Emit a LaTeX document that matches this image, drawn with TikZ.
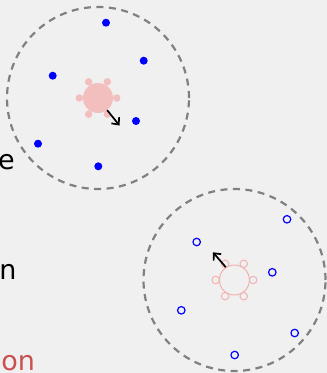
\documentclass[tikz,border=0pt]{standalone}
\usepackage{fontspec}
\setmainfont{DejaVu Sans}
\usetikzlibrary{arrows.meta,calc}
\definecolor{bg}{RGB}{240,240,240}
\definecolor{pinkfill}{RGB}{243,190,190}
\definecolor{pinkline}{RGB}{242,178,178}
\definecolor{ringgray}{RGB}{128,128,128}
\definecolor{labelred}{RGB}{200,80,80}
\tikzset{
  ring/.style={draw=ringgray, line width=2.2pt, dash pattern=on 7pt off 5.5pt, circle, minimum size=182pt, inner sep=0pt},
  solidblue/.style={circle, fill=blue, inner sep=0pt, minimum size=8pt},
  hollowblue/.style={circle, draw=blue, line width=1.2pt, inner sep=0pt, minimum size=7.5pt},
  blobfull/.style={circle, fill=pinkfill, inner sep=0pt, minimum size=30pt},
  bumpfull/.style={circle, fill=pinkfill, inner sep=0pt, minimum size=7.5pt},
  blobhollow/.style={circle, draw=pinkline, line width=1pt, inner sep=0pt, minimum size=30pt},
  bumphollow/.style={circle, draw=pinkline, line width=1pt, inner sep=0pt, minimum size=7.5pt},
  motion/.style={draw=black, line width=1.7pt, -{Straight Barb[length=5.5pt,width=10pt,line width=1.7pt]}},
  lbl/.style={font=\fontsize{27}{27}\selectfont, inner sep=0pt, anchor=base west}
}
\begin{document}
\begin{tikzpicture}[x=1pt,y=-1pt]
\fill[bg] (0,0) rectangle (327,373);
\useasboundingbox (0,0) rectangle (327,373);
% first cell
\node[ring] (ringA) at (98,98) {};
\foreach \a [count=\i] in {0,60,120,180,240,300}
  \node[bumpfull] (bumpA\i) at ($(98,98)+(\a:18.7)$) {};
\node[blobfull] (blobA) at (98,98) {};
\node[solidblue] (dA1) at (106,22.7) {};
\node[solidblue] (dA2) at (143.7,60.7) {};
\node[solidblue] (dA3) at (52.7,75.7) {};
\node[solidblue] (dA4) at (136,121) {};
\node[solidblue] (dA5) at (38,143.7) {};
\node[solidblue] (dA6) at (98.3,166.3) {};
\coordinate (tipA) at (119.5,125.5);
\draw[motion] (blobA.-53) -- (tipA);
% second cell
\node[ring] (ringB) at (234.5,280) {};
\foreach \a [count=\i] in {0,60,120,180,240,300}
  \node[bumphollow] (bumpB\i) at ($(234.4,280)+(\a:18.7)$) {};
\node[blobhollow] (blobB) at (234.4,280) {};
\node[hollowblue] (dB1) at (287,219.3) {};
\node[hollowblue] (dB2) at (196.7,242) {};
\node[hollowblue] (dB3) at (272.3,272.3) {};
\node[hollowblue] (dB4) at (181.3,310.3) {};
\node[hollowblue] (dB5) at (294.7,333) {};
\node[hollowblue] (dB6) at (234.7,355) {};
\coordinate (tipB) at (213,252.3);
\draw[motion] (blobB.124) -- (tipB);
% labels
\node[lbl] (l1) at (-2,169) {e};
\node[lbl] (l2) at (-0.8,279) {n};
\node[lbl, text=labelred] (l3) at (1.2,370.5) {on};
\end{tikzpicture}
\end{document}
